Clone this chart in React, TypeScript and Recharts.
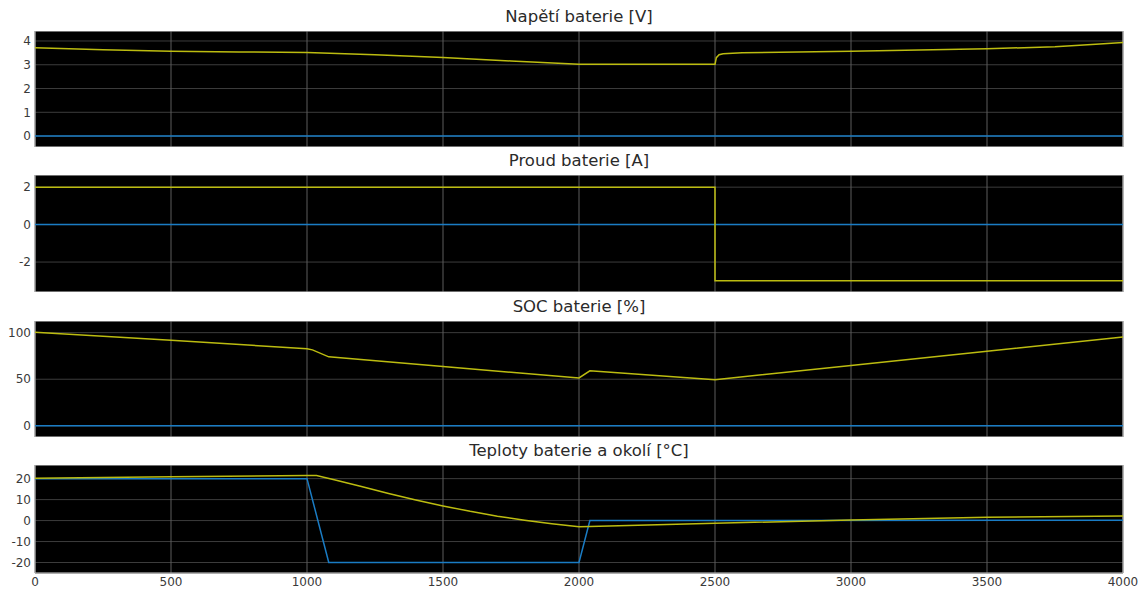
import { LineChart, Line, XAxis, YAxis, CartesianGrid, ReferenceArea } from "recharts"

const timeTicks = [0, 500, 1000, 1500, 2000, 2500, 3000, 3500, 4000]

// napeti baterie [V]
const voltT = [0, 250, 500, 750, 1000, 1250, 1500, 1750, 2000, 2500, 2505, 2515, 2530, 2600, 3000, 3500, 3750, 3900, 4000]
const voltV = [3.72, 3.63, 3.57, 3.54, 3.52, 3.42, 3.3, 3.16, 3.02, 3.02, 3.3, 3.42, 3.46, 3.5, 3.57, 3.67, 3.76, 3.86, 3.94]

// proud baterie [A]
const curT = [0, 2500, 2500, 4000]
const curV = [2, 2, -3, -3]

// SOC baterie [%]
const socT = [0, 500, 1000, 1020, 1080, 1500, 2000, 2040, 2500, 3000, 3500, 4000]
const socV = [100.5, 91.8, 82.8, 81.5, 74, 63.6, 51.4, 59, 49.5, 64.8, 80, 95.4]

// teploty baterie a okoli [°C]
const tempBatT = [0, 500, 1000, 1035, 1100, 1200, 1300, 1400, 1500, 1600, 1700, 1800, 1900, 2000, 2040, 2500, 3000, 3500, 4000]
const tempBatV = [20.2, 20.9, 21.5, 21.5, 19.5, 16.2, 12.9, 9.8, 7, 4.4, 2.1, 0.2, -1.5, -3, -2.8, -1.3, 0.3, 1.6, 2.2]
const tempAmbT = [0, 1000, 1080, 2000, 2040, 2500, 4000]
const tempAmbV = [20, 20, -20, -20, 0, 0, 0.2]

const zeroT = [0, 4000]
const zeroV = [0, 0]

const YELLOW = "#bcbc10"
const BLUE = "#1a7cc4"

const zip = (t: number[], v: number[]) => t.map((x, i) => ({ t: x, v: v[i] }))

type PanelProps = {
  title: string
  top: number
  height: number
  domain: [number, number]
  ticks: number[]
  yellow: { t: number; v: number }[]
  blue: { t: number; v: number }[]
  showX?: boolean
}

const font = "'DejaVu Sans', Verdana, sans-serif"

const Panel = ({ title, top, height, domain, ticks, yellow, blue, showX }: PanelProps) => {
  const xh = showX ? 16 : 0
  return (
    <>
      <div
        style={{
          position: "absolute",
          left: 35,
          width: 1088,
          top: top - 24,
          height: 20,
          lineHeight: "20px",
          textAlign: "center",
          fontFamily: font,
          fontSize: 16.5,
          color: "#2a2a2a",
        }}
      >
        {title}
      </div>
      <div style={{ position: "absolute", left: 0, top }}>
        <LineChart width={1138} height={height + xh} margin={{ top: 0, right: 15, left: 0, bottom: 0 }}>
          <CartesianGrid horizontal={true} vertical={false} stroke="#3c3c3c" fill="#000" />
          <CartesianGrid horizontal={false} vertical={true} stroke="#5c5c5c" />
          <XAxis
            dataKey="t"
            type="number"
            domain={[0, 4000]}
            ticks={timeTicks}
            hide={!showX}
            height={xh}
            axisLine={false}
            tickLine={false}
            tickSize={3}
            tickMargin={1}
            tick={{ fill: "#3a3a3a", fontSize: 12, fontFamily: font }}
            allowDataOverflow
          />
          <YAxis
            type="number"
            domain={domain}
            ticks={ticks}
            width={35}
            axisLine={false}
            tickLine={false}
            tickSize={2}
            tickMargin={2}
            interval={0}
            tick={{ fill: "#3a3a3a", fontSize: 12, fontFamily: font }}
            allowDataOverflow
          />
          <ReferenceArea x1={0} x2={4000} y1={domain[0]} y2={domain[1]} fill="none" stroke="#bdbdbd" strokeWidth={1} />
          <Line data={blue} dataKey="v" type="linear" stroke={BLUE} strokeWidth={1.5} dot={false} isAnimationActive={false} />
          <Line data={yellow} dataKey="v" type="linear" stroke={YELLOW} strokeWidth={1.5} dot={false} isAnimationActive={false} />
        </LineChart>
      </div>
    </>
  )
}

const App = () => {
  return (
    <div style={{ position: "absolute", left: 0, top: 0, width: 1138, height: 589, background: "#fff", overflow: "hidden" }}>
      <Panel
        title="Napětí baterie [V]"
        top={31}
        height={116}
        domain={[-0.46, 4.42]}
        ticks={[0, 1, 2, 3, 4]}
        yellow={zip(voltT, voltV)}
        blue={zip(zeroT, zeroV)}
      />
      <Panel
        title="Proud baterie [A]"
        top={175}
        height={117}
        domain={[-3.6, 2.65]}
        ticks={[-2, 0, 2]}
        yellow={zip(curT, curV)}
        blue={zip(zeroT, zeroV)}
      />
      <Panel
        title="SOC baterie [%]"
        top={321}
        height={116}
        domain={[-12, 112.5]}
        ticks={[0, 50, 100]}
        yellow={zip(socT, socV)}
        blue={zip(zeroT, zeroV)}
      />
      <Panel
        title="Teploty baterie a okolí [°C]"
        top={465}
        height={108}
        domain={[-25, 26.5]}
        ticks={[-20, -10, 0, 10, 20]}
        yellow={zip(tempBatT, tempBatV)}
        blue={zip(tempAmbT, tempAmbV)}
        showX
      />
    </div>
  )
}

export default App
